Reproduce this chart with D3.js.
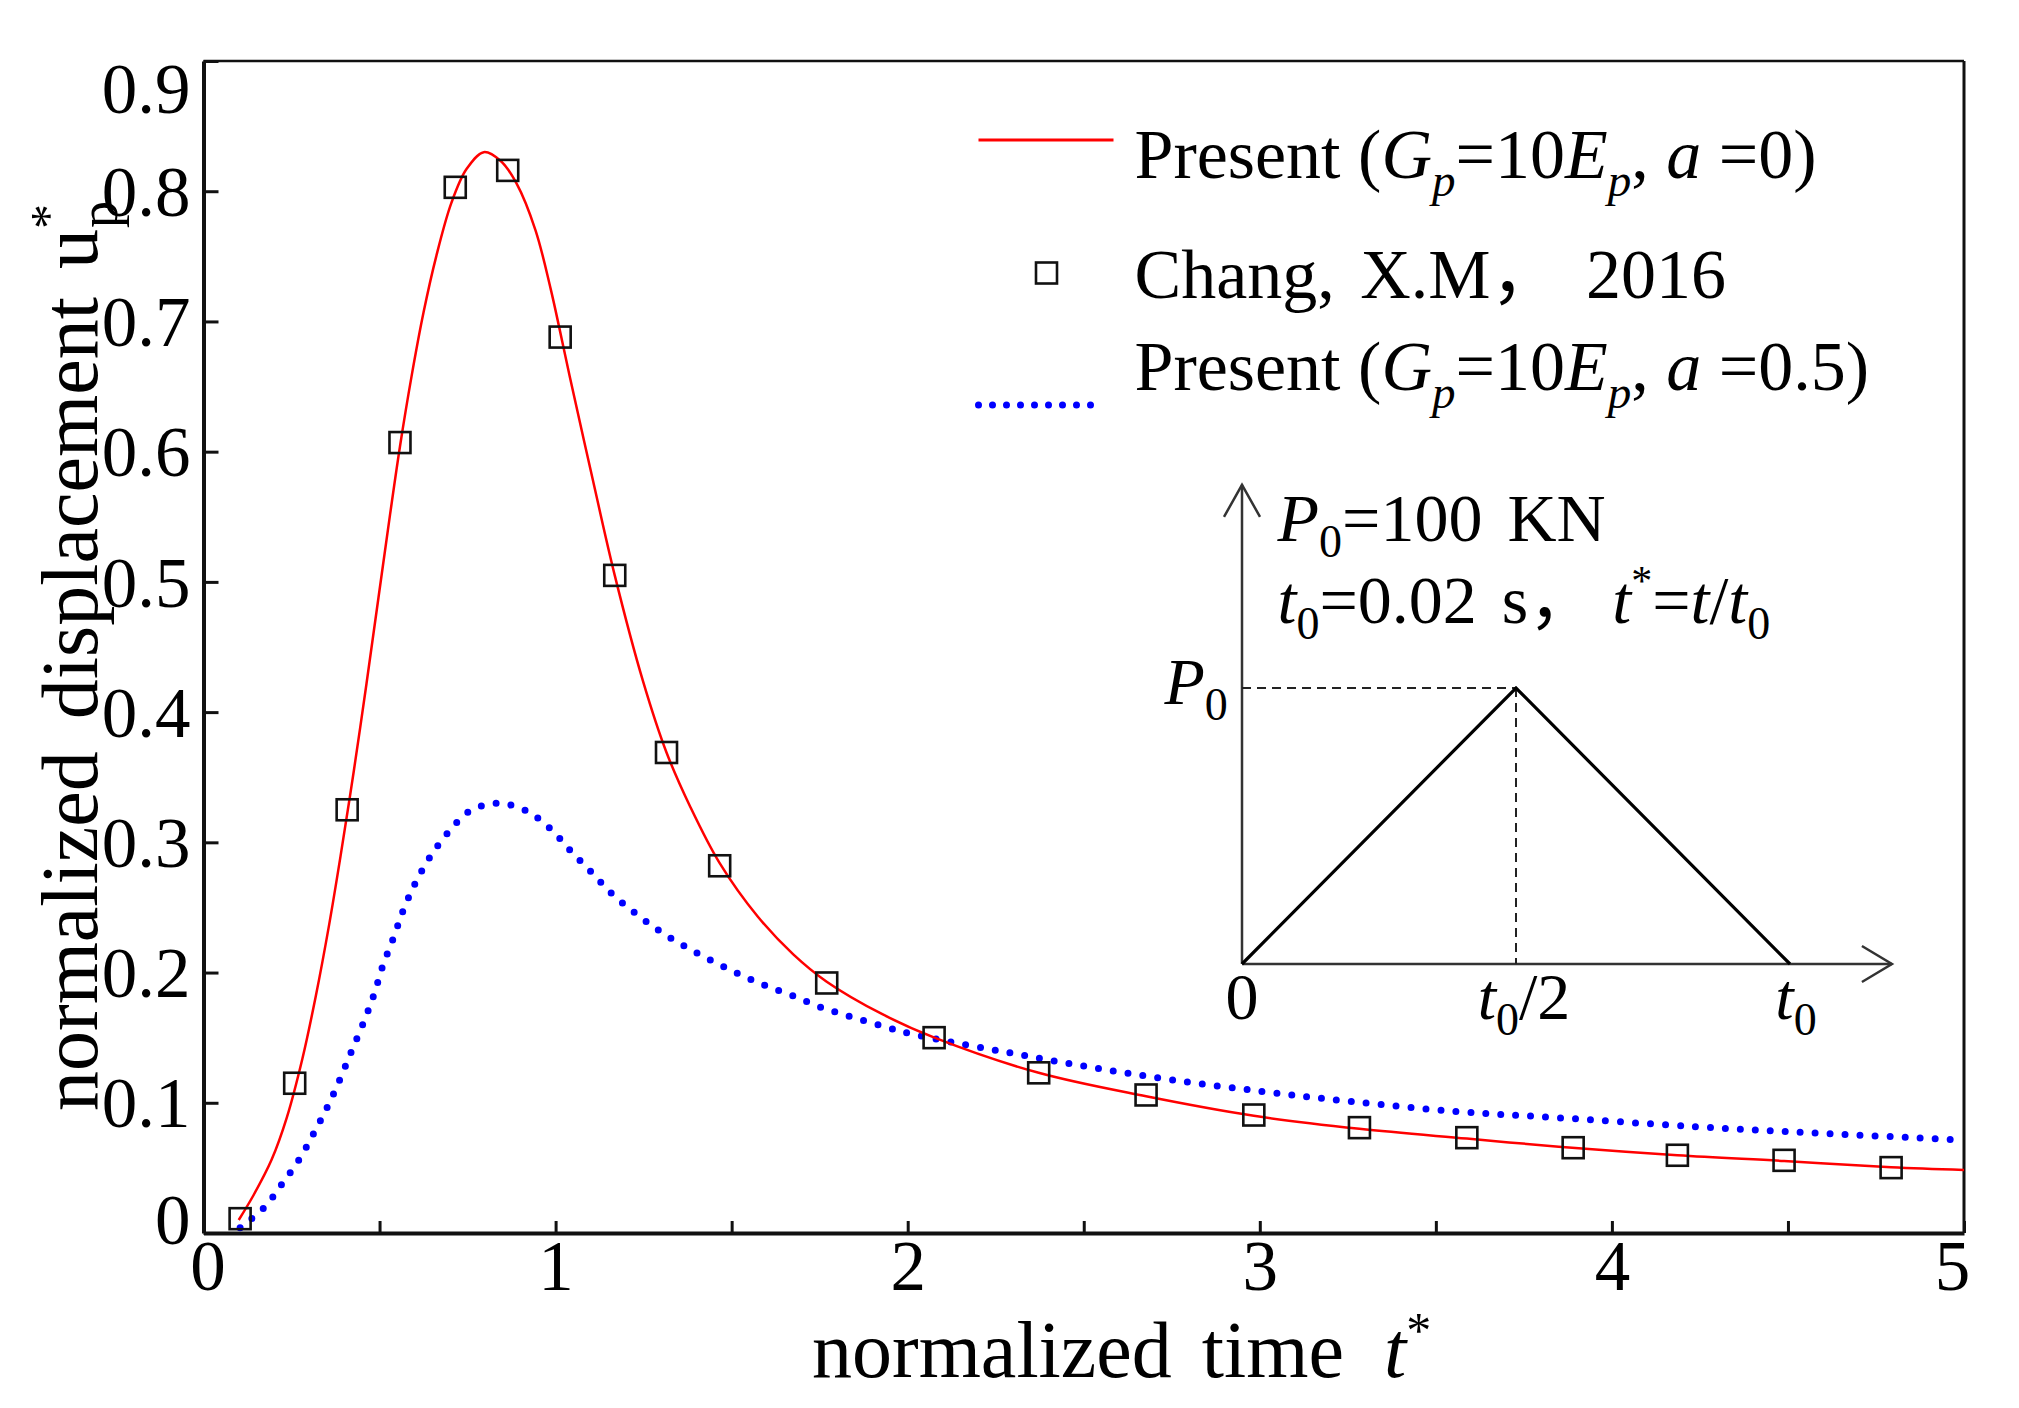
<!DOCTYPE html>
<html>
<head>
<meta charset="utf-8">
<script src="https://cdn.jsdelivr.net/npm/d3@7"></script>
<style>
  body { margin: 0; background: #fff; }
  text { font-family: "Liberation Serif", "Times New Roman", "Noto Sans CJK SC", serif; fill: #000; }
</style>
</head>
<body>
<div id="canvas-svg"></div>
<script>

// present solution, a = 0 (red line)
var tRed = [0.10, 0.142, 0.193, 0.237, 0.281, 0.319, 0.357, 0.389, 0.427, 0.463, 0.497, 0.530, 0.558, 0.591,
            0.625, 0.661, 0.704, 0.747, 0.796, 0.845, 0.889, 0.943, 0.986, 1.013, 1.040, 1.106, 1.168, 1.248,
            1.315, 1.383, 1.466, 1.574, 1.675, 1.770, 1.928, 2.076, 2.372, 2.677, 2.983, 3.283, 3.588, 3.849,
            4.186, 4.489, 4.793, 5.0];
var uRed = [0.010, 0.029, 0.056, 0.089, 0.134, 0.182, 0.237, 0.289, 0.355, 0.422, 0.488, 0.552, 0.604, 0.658,
            0.707, 0.750, 0.791, 0.817, 0.830, 0.823, 0.806, 0.770, 0.725, 0.692, 0.658, 0.578, 0.505, 0.424,
            0.369, 0.327, 0.284, 0.243, 0.214, 0.193, 0.168, 0.150, 0.123, 0.105, 0.090, 0.080, 0.0725, 0.0663,
            0.0597, 0.0553, 0.0505, 0.0484];

// present solution, a = 0.5 (blue dotted)
var tBlue = [0.104, 0.174, 0.224, 0.273, 0.316, 0.354, 0.389, 0.421, 0.455, 0.484, 0.509, 0.540, 0.569, 0.604,
             0.644, 0.696, 0.756, 0.836, 0.918, 0.987, 1.041, 1.102, 1.162, 1.229, 1.295, 1.368, 1.444, 1.520,
             1.596, 1.675, 1.757, 1.840, 1.928, 2.009, 2.257, 2.504, 2.752, 3.013, 3.261, 3.563, 3.825, 4.24,
             4.6, 5.0];
var uBlue = [0.004, 0.020, 0.038, 0.057, 0.078, 0.098, 0.119, 0.140, 0.162, 0.183, 0.205, 0.227, 0.249, 0.270,
             0.289, 0.308, 0.324, 0.330, 0.324, 0.310, 0.294, 0.277, 0.260, 0.245, 0.232, 0.220, 0.209, 0.199,
             0.190, 0.182, 0.173, 0.166, 0.159, 0.153, 0.140, 0.128, 0.1175, 0.1085, 0.1009, 0.0932, 0.0889, 0.0816,
             0.0765, 0.0714];

// Chang, X.M 2016 (squares)
var tChang = [0.104, 0.259, 0.408, 0.558, 0.715, 0.864, 1.013, 1.168, 1.315, 1.466, 1.770, 2.075, 2.372,
              2.677, 2.983, 3.283, 3.588, 3.890, 4.186, 4.489, 4.793];
var uChang = [0.011, 0.115, 0.325, 0.607, 0.803, 0.816, 0.688, 0.505, 0.369, 0.282, 0.192, 0.150, 0.123,
              0.106, 0.0906, 0.0809, 0.0732, 0.0655, 0.0597, 0.0558, 0.0502];

var xTicks = [0, 0.5, 1, 1.5, 2, 2.5, 3, 3.5, 4, 4.5, 5];
var yTicks = [0, 0.1, 0.2, 0.3, 0.4, 0.5, 0.6, 0.7, 0.8, 0.9];

// inset: triangular load pulse
var pulseT = [0, 0.5, 1];
var pulseP = [0, 1, 0];
var insetTicks = ["0", "t0/2", "t0"];

var W = 2019, H = 1408;
var margin = {top: 61, right: 55, bottom: 175, left: 203.5},
    width = W - margin.left - margin.right,
    height = H - margin.top - margin.bottom;

var svg = d3.select("#canvas-svg").append("svg")
    .attr("width", W)
    .attr("height", H);

svg.append("rect").attr("width", W).attr("height", H).style("fill", "#fff");

var g = svg.append("g").attr("transform", "translate(" + margin.left + "," + margin.top + ")");

var x = d3.scaleLinear().domain([0, 5]).range([0, width]);
var y = d3.scaleLinear().domain([0, 0.9]).range([height, 0]);

// frame (top, right thin)
g.append("line").attr("x1", x(0)).attr("x2", x(5)).attr("y1", y(0.9)).attr("y2", y(0.9))
  .style("stroke", "#111").style("stroke-width", 2.5);
g.append("line").attr("x1", x(5)).attr("x2", x(5)).attr("y1", y(0.9)).attr("y2", y(0))
  .style("stroke", "#111").style("stroke-width", 3);

// axes
var xAxis = d3.axisBottom(x).tickValues(xTicks).tickSizeInner(-12).tickSizeOuter(0).tickPadding(7)
  .tickFormat(function(d){ return d % 1 === 0 ? d3.format("d")(d) : ""; });
var gx = g.append("g").attr("transform", "translate(0," + height + ")").call(xAxis);

var yAxis = d3.axisLeft(y).tickValues(yTicks).tickSizeInner(-15).tickSizeOuter(0).tickPadding(13)
  .tickFormat(function(d){ return d === 0 ? "0" : d3.format(".1f")(d); });
var gy = g.append("g").call(yAxis);

[gx, gy].forEach(function(a){
  a.select(".domain").style("stroke", "#111").style("stroke-width", 4);
  a.selectAll(".tick line").style("stroke", "#111").style("stroke-width", 3);
  a.selectAll("text").style("font-family", "'Liberation Serif','Times New Roman',serif")
    .style("font-size", "71px").style("fill", "#000");
});
gx.selectAll(".tick text").attr("dy", "0.71em")
  .attr("dx", function(d){ return d === 5 ? -12 : (d === 0 ? 4 : 0); });
gy.selectAll(".tick text")
  .attr("dy", function(d){ return d === 0.9 ? "0.72em" : (d === 0 ? "0.15em" : "0.34em"); });

// curves
var lineFn = d3.line()
  .x(function(d){ return x(d[0]); })
  .y(function(d){ return y(d[1]); })
  .curve(d3.curveCatmullRom.alpha(0.5));

g.append("path")
  .datum(d3.zip(tBlue, uBlue))
  .attr("d", lineFn)
  .style("fill", "none")
  .style("stroke", "#0000ff")
  .style("stroke-width", 7)
  .style("stroke-linecap", "round")
  .style("stroke-dasharray", "0,15");

g.append("path")
  .datum(d3.zip(tRed, uRed))
  .attr("d", lineFn)
  .style("fill", "none")
  .style("stroke", "#ff0000")
  .style("stroke-width", 2.5);

var sq = 21;
g.selectAll(".chang")
  .data(d3.zip(tChang, uChang))
  .enter().append("rect")
  .attr("class", "chang")
  .attr("x", function(d){ return x(d[0]) - sq / 2; })
  .attr("y", function(d){ return y(d[1]) - sq / 2; })
  .attr("width", sq).attr("height", sq)
  .style("fill", "none").style("stroke", "#111").style("stroke-width", 2.6);

// axis titles
var xt = svg.append("text")
  .attr("x", 812).attr("y", 1377)
  .style("font-size", "80px").style("word-spacing", "10px");
xt.append("tspan").text("normalized time");
xt.append("tspan").attr("dx", 40).style("font-style", "italic").text("t");
xt.append("tspan").attr("dy", -30).style("font-size", "50px").text("*");

var yt = svg.append("text")
  .attr("transform", "translate(97,1111) rotate(-90)")
  .style("font-size", "80px").style("word-spacing", "12px");
yt.append("tspan").text("normalized displacement");
yt.append("tspan").attr("dx", 28).text("u");
yt.append("tspan").attr("dy", -32).style("font-size", "50px").text("*");
yt.append("tspan").attr("dx", -24).attr("dy", 52).style("font-size", "54px").text("p");

// legend
var legend = g.append("g");
legend.append("line").attr("x1", 775).attr("x2", 910).attr("y1", 79).attr("y2", 79)
  .style("stroke", "#ff0000").style("stroke-width", 3);
legend.append("rect").attr("x", 843 - sq / 2).attr("y", 212 - sq / 2).attr("width", sq).attr("height", sq)
  .style("fill", "none").style("stroke", "#111").style("stroke-width", 2.6);
legend.append("line").attr("x1", 775).attr("x2", 900).attr("y1", 344).attr("y2", 344)
  .style("stroke", "#0000ff").style("stroke-width", 7)
  .style("stroke-linecap", "round").style("stroke-dasharray", "0,14");

function presentLabel(ty, aVal) {
  var t = legend.append("text").attr("x", 931).attr("y", ty).style("font-size", "70px");
  t.append("tspan").text("Present (");
  t.append("tspan").style("font-style", "italic").text("G");
  t.append("tspan").style("font-style", "italic").style("font-size", "47px").attr("dy", 18).text("p");
  t.append("tspan").attr("dy", -18).text("=10");
  t.append("tspan").style("font-style", "italic").text("E");
  t.append("tspan").style("font-style", "italic").style("font-size", "47px").attr("dy", 18).text("p");
  t.append("tspan").attr("dy", -18).text(", ");
  t.append("tspan").style("font-style", "italic").text("a");
  t.append("tspan").text(" =" + aVal + ")");
}
presentLabel(117, "0");
legend.append("text").attr("x", 931).attr("y", 237).style("font-size", "70px")
  .style("word-spacing", "8px").text("Chang, X.M， 2016");
presentLabel(329, "0.5");

// inset
var ix = d3.scaleLinear().domain([0, 1]).range([1038.5, 1586.5]);
var iy = d3.scaleLinear().domain([0, 1]).range([903, 627]);
var inset = g.append("g");

inset.append("line").attr("x1", ix(0)).attr("x2", ix(1.186)).attr("y1", iy(0)).attr("y2", iy(0))
  .style("stroke", "#333").style("stroke-width", 2.5);
inset.append("line").attr("x1", ix(0)).attr("x2", ix(0)).attr("y1", iy(0)).attr("y2", iy(1.736))
  .style("stroke", "#333").style("stroke-width", 2.5);
// open arrow heads
inset.append("path")
  .attr("d", "M" + (ix(1.186) - 30) + "," + (iy(0) - 18) + "L" + ix(1.186) + "," + iy(0) +
             "L" + (ix(1.186) - 30) + "," + (iy(0) + 18))
  .style("fill", "none").style("stroke", "#333").style("stroke-width", 2.5);
inset.append("path")
  .attr("d", "M" + (ix(0) - 18) + "," + (iy(1.736) + 32) + "L" + ix(0) + "," + iy(1.736) +
             "L" + (ix(0) + 18) + "," + (iy(1.736) + 32))
  .style("fill", "none").style("stroke", "#333").style("stroke-width", 2.5);

// dashed guides to peak
inset.append("line").attr("x1", ix(0)).attr("x2", ix(0.5)).attr("y1", iy(1)).attr("y2", iy(1))
  .style("stroke", "#222").style("stroke-width", 2).style("stroke-dasharray", "9,6");
inset.append("line").attr("x1", ix(0.5)).attr("x2", ix(0.5)).attr("y1", iy(1)).attr("y2", iy(0))
  .style("stroke", "#222").style("stroke-width", 2).style("stroke-dasharray", "9,6");

inset.append("path")
  .datum(d3.zip(pulseT, pulseP))
  .attr("d", d3.line().x(function(d){ return ix(d[0]); }).y(function(d){ return iy(d[1]); }))
  .style("fill", "none").style("stroke", "#000").style("stroke-width", 3.2);

// inset tick labels
var insetOffset = [0, 8, 6];
pulseT.forEach(function(t, i){
  var lbl = inset.append("text").attr("x", ix(t) + insetOffset[i]).attr("y", 958)
    .attr("text-anchor", "middle").style("font-size", "66px");
  if (insetTicks[i] === "0") {
    lbl.text("0");
  } else {
    lbl.append("tspan").style("font-style", "italic").text("t");
    lbl.append("tspan").attr("dy", 16).style("font-size", "46px").text("0");
    if (insetTicks[i] === "t0/2") lbl.append("tspan").attr("dy", -16).text("/2");
  }
});

var p0 = inset.append("text").attr("x", 961).attr("y", 643).style("font-size", "66px");
p0.append("tspan").style("font-style", "italic").text("P");
p0.append("tspan").attr("dy", 16).style("font-size", "46px").text("0");

var l1 = inset.append("text").attr("x", 1074).attr("y", 480).style("font-size", "68px");
l1.append("tspan").style("font-style", "italic").text("P");
l1.append("tspan").attr("dy", 16).style("font-size", "46px").text("0");
l1.append("tspan").attr("dy", -16).style("word-spacing", "8px").text("=100 KN");

var l2 = inset.append("text").attr("x", 1074).attr("y", 562).style("font-size", "68px");
l2.append("tspan").style("font-style", "italic").text("t");
l2.append("tspan").attr("dy", 16).style("font-size", "46px").text("0");
l2.append("tspan").attr("dy", -16).style("word-spacing", "8px").text("=0.02 s，");
l2.append("tspan").attr("dx", 16).style("font-style", "italic").text("t");
l2.append("tspan").attr("dy", -28).style("font-size", "42px").text("*");
l2.append("tspan").attr("dy", 28).text("=");
l2.append("tspan").style("font-style", "italic").text("t");
l2.append("tspan").text("/");
l2.append("tspan").style("font-style", "italic").text("t");
l2.append("tspan").attr("dy", 16).style("font-size", "46px").text("0");

</script>
</body>
</html>
